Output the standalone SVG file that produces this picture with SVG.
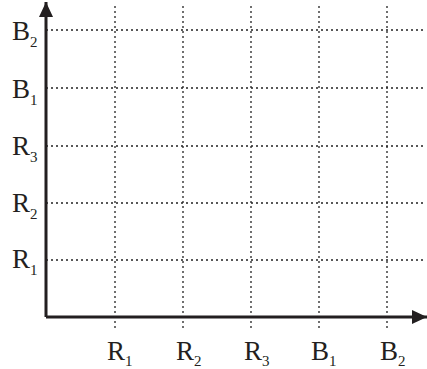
<svg xmlns="http://www.w3.org/2000/svg" width="427" height="369" viewBox="0 0 427 369">
  <style>
    .grid { stroke: #222; stroke-width: 1.3; stroke-dasharray: 2 3; fill: none; }
    .axis { stroke: #231f20; stroke-width: 3; fill: none; }
    .lbl { font-family: "Liberation Serif", "Times New Roman", serif; font-size: 27px; fill: #231f20; }
    .sub { font-size: 15px; }
  </style>
  <defs>
    <marker id="arrow" markerUnits="userSpaceOnUse" markerWidth="15" markerHeight="14" refX="15" refY="7" orient="auto">
      <path d="M0,0 L15,7 L0,14 Z" fill="#231f20"/>
    </marker>
  </defs>

  <!-- dotted grid -->
  <g id="grid">
    <line class="grid" x1="115" y1="6" x2="115" y2="330"/>
    <line class="grid" x1="183" y1="6" x2="183" y2="330"/>
    <line class="grid" x1="251" y1="6" x2="251" y2="330"/>
    <line class="grid" x1="319" y1="6" x2="319" y2="330"/>
    <line class="grid" x1="387" y1="6" x2="387" y2="330"/>
    <line class="grid" x1="46" y1="30" x2="426" y2="30"/>
    <line class="grid" x1="46" y1="88" x2="426" y2="88"/>
    <line class="grid" x1="46" y1="146" x2="426" y2="146"/>
    <line class="grid" x1="46" y1="203" x2="426" y2="203"/>
    <line class="grid" x1="46" y1="260" x2="426" y2="260"/>
  </g>

  <!-- axes -->
  <g id="axes">
    <path class="axis" d="M46,317 L46,2" marker-end="url(#arrow)"/>
    <path class="axis" d="M46,317 L427,317" marker-end="url(#arrow)"/>
  </g>

  <!-- vertical axis labels -->
  <g id="y-labels">
    <text class="lbl" x="12" y="40">B<tspan class="sub" dy="7">2</tspan></text>
    <text class="lbl" x="12" y="98">B<tspan class="sub" dy="7">1</tspan></text>
    <text class="lbl" x="12" y="155">R<tspan class="sub" dy="7">3</tspan></text>
    <text class="lbl" x="12" y="212">R<tspan class="sub" dy="7">2</tspan></text>
    <text class="lbl" x="12" y="268">R<tspan class="sub" dy="7">1</tspan></text>
  </g>

  <!-- horizontal axis labels -->
  <g id="x-labels">
    <text class="lbl" x="107" y="360">R<tspan class="sub" dy="6">1</tspan></text>
    <text class="lbl" x="176" y="360">R<tspan class="sub" dy="6">2</tspan></text>
    <text class="lbl" x="244" y="360">R<tspan class="sub" dy="6">3</tspan></text>
    <text class="lbl" x="311" y="360">B<tspan class="sub" dy="6">1</tspan></text>
    <text class="lbl" x="380" y="360">B<tspan class="sub" dy="6">2</tspan></text>
  </g>
</svg>
